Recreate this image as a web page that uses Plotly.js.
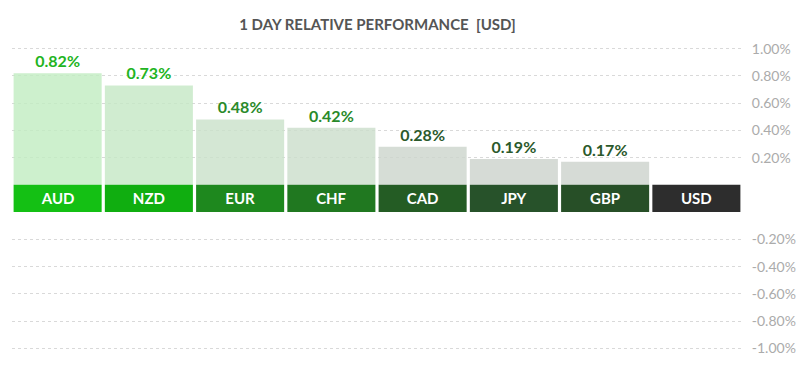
<!DOCTYPE html>
<html>
<head>
<meta charset="utf-8">
<script src="https://cdn.plot.ly/plotly-3.0.1.min.js"></script>
<style>html,body{margin:0;padding:0;background:#fff;}#chart{width:799px;height:387px;}</style>
</head>
<body>
<div id="chart"></div>
<script>
// Data
var categories = ["AUD", "NZD", "EUR", "CHF", "CAD", "JPY", "GBP", "USD"];
var values = [0.82, 0.73, 0.48, 0.42, 0.28, 0.19, 0.17, 0.00];
var posTicks = [0.2, 0.4, 0.6, 0.8, 1.0];
var negTicks = [-0.2, -0.4, -0.6, -0.8, -1.0];
var titleText = "1 DAY RELATIVE PERFORMANCE  [USD]";

// Styles
var bandColors = ["#14c014", "#10ae10", "#1e881e", "#207820", "#245c24", "#27522a", "#274f27", "#2d2d2d"];
var barColors = ["#cdf0cd", "#d0ecd0", "#d4e7d4", "#d5e4d5", "#d6ddd6", "#d6dbd6", "#d6dbd6", "#d6dbd6"];
var valueTextColors = ["#22b422", "#22b422", "#2a8a2a", "#2a8a2a", "#2b592b", "#2b592b", "#2b592b", "#2b592b"];

function translucent(hex, a) {
  var r = parseInt(hex.substr(1,2),16), g = parseInt(hex.substr(3,2),16), b = parseInt(hex.substr(5,2),16);
  function f(c){ return Math.max(0, Math.round((c - (1-a)*255)/a)); }
  return "rgba(" + f(r) + "," + f(g) + "," + f(b) + "," + a + ")";
}

var BAND = 0.2; // label band occupies this range below zero
var tickvals = posTicks.concat(negTicks.map(function(v){ return v - BAND; }));
var ticktext = posTicks.concat(negTicks).map(function(v){ return v.toFixed(2) + "%"; });

var valueTrace = {
  type: "bar",
  x: categories,
  y: values,
  marker: {color: barColors.map(function(c){ return translucent(c, 0.8); }), line: {width: 0}},
  text: values.map(function(v){ return v > 0 ? v.toFixed(2) + "%" : ""; }),
  textposition: "outside",
  cliponaxis: false,
  textfont: {family: "Lato", size: 16, color: valueTextColors, weight: "bold"},
  hoverinfo: "none"
};
var bandTrace = {
  type: "bar",
  x: categories,
  y: categories.map(function(){ return BAND; }),
  base: categories.map(function(){ return -BAND; }),
  marker: {color: bandColors, line: {width: 0}},
  text: categories,
  textposition: "inside",
  insidetextanchor: "middle",
  textangle: 0,
  textfont: {family: "Lato", size: 15, color: "#ffffff", weight: "bold"},
  hoverinfo: "none"
};

var layout = {
  width: 799, height: 387,
  margin: {l: 12, r: 57, t: 35, b: 25},
  paper_bgcolor: "#fff", plot_bgcolor: "#fff",
  showlegend: false,
  barmode: "overlay",
  bargap: 0.035,
  title: {text: titleText, x: 0.4725, xanchor: "center", y: 0.935, yanchor: "middle",
          font: {family: "Lato", size: 15, color: "#555555", weight: "bold"}},
  xaxis: {showticklabels: false, showgrid: false, zeroline: false, showline: false, ticks: ""},
  yaxis: {
    side: "right",
    range: [-1.3, 1.1],
    tickvals: tickvals, ticktext: ticktext,
    showgrid: true, gridcolor: "#d9d9d9", griddash: "3px,3px", gridwidth: 1,
    zeroline: false, showline: false,
    ticks: "outside", ticklen: 6, tickcolor: "rgba(0,0,0,0)",
    tickfont: {family: "Lato", size: 14, color: "#ababab"}
  }
};

Plotly.newPlot("chart", [valueTrace, bandTrace], layout, {displayModeBar: false, staticPlot: true});
</script>
</body>
</html>
